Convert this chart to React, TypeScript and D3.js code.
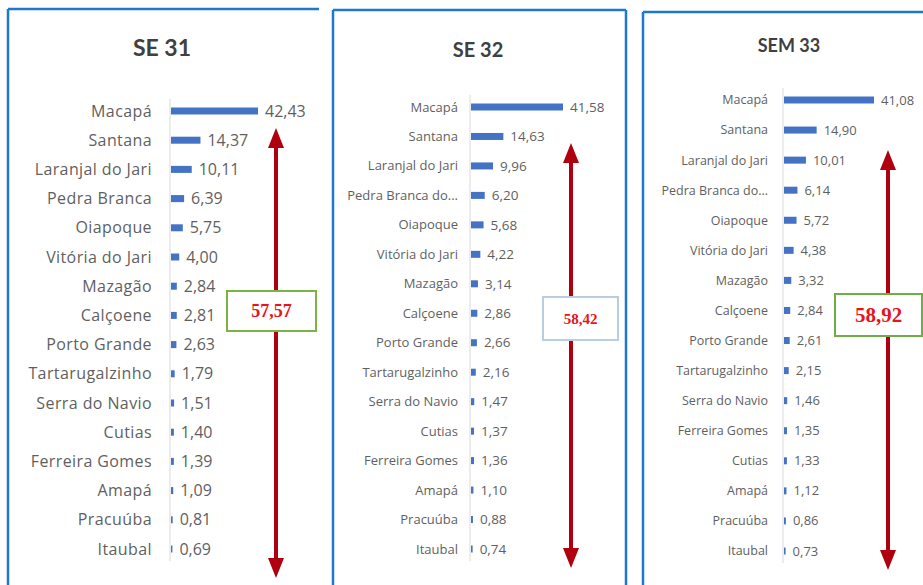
import React, { useEffect, useRef } from 'react';
import * as d3 from 'd3';

// SE 31
const se31Labels = ['Macapá', 'Santana', 'Laranjal do Jari', 'Pedra Branca', 'Oiapoque', 'Vitória do Jari', 'Mazagão', 'Calçoene', 'Porto Grande', 'Tartarugalzinho', 'Serra do Navio', 'Cutias', 'Ferreira Gomes', 'Amapá', 'Pracuúba', 'Itaubal'];
const se31Values = [42.43, 14.37, 10.11, 6.39, 5.75, 4.0, 2.84, 2.81, 2.63, 1.79, 1.51, 1.4, 1.39, 1.09, 0.81, 0.69];

// SE 32
const se32Labels = ['Macapá', 'Santana', 'Laranjal do Jari', 'Pedra Branca do...', 'Oiapoque', 'Vitória do Jari', 'Mazagão', 'Calçoene', 'Porto Grande', 'Tartarugalzinho', 'Serra do Navio', 'Cutias', 'Ferreira Gomes', 'Amapá', 'Pracuúba', 'Itaubal'];
const se32Values = [41.58, 14.63, 9.96, 6.2, 5.68, 4.22, 3.14, 2.86, 2.66, 2.16, 1.47, 1.37, 1.36, 1.1, 0.88, 0.74];

// SEM 33
const sem33Labels = ['Macapá', 'Santana', 'Laranjal do Jari', 'Pedra Branca do...', 'Oiapoque', 'Vitória do Jari', 'Mazagão', 'Calçoene', 'Porto Grande', 'Tartarugalzinho', 'Serra do Navio', 'Ferreira Gomes', 'Cutias', 'Amapá', 'Pracuúba', 'Itaubal'];
const sem33Values = [41.08, 14.9, 10.01, 6.14, 5.72, 4.38, 3.32, 2.84, 2.61, 2.15, 1.46, 1.35, 1.33, 1.12, 0.86, 0.73];

const titles = ['SE 31', 'SE 32', 'SEM 33'];
const totals = ['57,57', '58,42', '58,92'];

const fmt = (v: number) => v.toFixed(2).replace('.', ',');

// layout per panel (pixels)
const panels = [
  {
    labels: se31Labels, values: se31Values, title: titles[0], total: totals[0],
    frame: { x0: 8, x1: 319, y0: 9, right: false },
    titleX: 162, titleY: 56, titleSize: 23,
    axisX: 170, barMax: 87, yTop: 111, yBottom: 549,
    labelSize: 16, labelGap: 18, labelSpacing: 0.4, valueSize: 16, barH: 7,
    arrowX: 276, arrowTop: 128, arrowBottom: 578,
    box: { x: 227, y: 291, w: 89, h: 40, stroke: '#7cb342', size: 18 },
  },
  {
    labels: se32Labels, values: se32Values, title: titles[1], total: totals[1],
    frame: { x0: 333, x1: 626, y0: 10, right: true },
    titleX: 478, titleY: 57, titleSize: 20,
    axisX: 470, barMax: 92, yTop: 107, yBottom: 549,
    labelSize: 13, labelGap: 12, labelSpacing: 0, valueSize: 13.5, barH: 7,
    arrowX: 571, arrowTop: 143, arrowBottom: 568,
    box: { x: 543, y: 297, w: 75, h: 43, stroke: '#b9cde0', size: 15 },
  },
  {
    labels: sem33Labels, values: sem33Values, title: titles[2], total: totals[2],
    frame: { x0: 643, x1: 930, y0: 12, right: false },
    titleX: 789, titleY: 52, titleSize: 18,
    axisX: 783, barMax: 90, yTop: 100, yBottom: 551,
    labelSize: 12.5, labelGap: 15, labelSpacing: 0, valueSize: 13, barH: 7,
    arrowX: 888, arrowTop: 150, arrowBottom: 570,
    box: { x: 835, y: 294, w: 87, h: 42, stroke: '#70ad47', size: 21 },
  },
];

const App: React.FC = () => {
  const ref = useRef<SVGSVGElement | null>(null);

  useEffect(() => {
    if (!ref.current) return;
    const svg = d3.select(ref.current);
    svg.selectAll('*').remove();

    svg.append('rect').attr('width', 923).attr('height', 585).attr('fill', '#ffffff');

    panels.forEach(p => {
      const g = svg.append('g');
      const blue = '#1f77d0';

      // frame
      g.append('line').attr('x1', p.frame.x0).attr('x2', p.frame.x1)
        .attr('y1', p.frame.y0).attr('y2', p.frame.y0)
        .attr('stroke', blue).attr('stroke-width', 2.5);
      g.append('line').attr('x1', p.frame.x0).attr('x2', p.frame.x0)
        .attr('y1', p.frame.y0).attr('y2', 590)
        .attr('stroke', blue).attr('stroke-width', 2.5);
      if (p.frame.right) {
        g.append('line').attr('x1', p.frame.x1).attr('x2', p.frame.x1)
          .attr('y1', p.frame.y0).attr('y2', 590)
          .attr('stroke', blue).attr('stroke-width', 2.5);
      }

      // title
      g.append('text')
        .attr('x', p.titleX).attr('y', p.titleY)
        .attr('text-anchor', 'middle')
        .attr('font-family', 'Lato, "Open Sans", sans-serif')
        .attr('font-weight', 'bold')
        .attr('font-size', p.titleSize)
        .attr('fill', '#404040')
        .text(p.title);

      const y = d3.scalePoint<string>()
        .domain(p.labels)
        .range([p.yTop, p.yBottom]);

      const x = d3.scaleLinear()
        .domain([0, d3.max(p.values) || 1])
        .range([0, p.barMax]);

      // axis line
      g.append('line')
        .attr('x1', p.axisX).attr('x2', p.axisX)
        .attr('y1', p.yTop - 12).attr('y2', p.yBottom + 12)
        .attr('stroke', '#d9d9d9').attr('stroke-width', 1);

      const rows = p.labels.map((name, i) => ({ name, value: p.values[i] }));

      // category labels
      g.selectAll('.cat')
        .data(rows)
        .enter()
        .append('text')
        .attr('x', p.axisX - p.labelGap)
        .attr('y', d => (y(d.name) || 0))
        .attr('dy', '0.35em')
        .attr('text-anchor', 'end')
        .attr('font-family', '"Open Sans", sans-serif')
        .attr('font-size', p.labelSize)
        .attr('letter-spacing', p.labelSpacing)
        .attr('fill', '#5f5f5f')
        .text(d => d.name);

      // bars
      g.selectAll('.bar')
        .data(rows)
        .enter()
        .append('rect')
        .attr('x', p.axisX + 1)
        .attr('y', d => (y(d.name) || 0) - p.barH / 2)
        .attr('width', d => x(d.value))
        .attr('height', p.barH)
        .attr('fill', '#4472c4');

      // value labels
      g.selectAll('.val')
        .data(rows)
        .enter()
        .append('text')
        .attr('x', d => p.axisX + 1 + x(d.value) + 7)
        .attr('y', d => (y(d.name) || 0))
        .attr('dy', '0.35em')
        .attr('font-family', '"Open Sans", sans-serif')
        .attr('font-size', p.valueSize)
        .attr('fill', '#5f5f5f')
        .text(d => fmt(d.value));

      // double arrow
      const red = '#b0000f';
      const headL = 20;
      const headW = 8;
      g.append('line')
        .attr('x1', p.arrowX).attr('x2', p.arrowX)
        .attr('y1', p.arrowTop + headL - 2).attr('y2', p.arrowBottom - headL + 2)
        .attr('stroke', red).attr('stroke-width', 4);
      g.append('path')
        .attr('d', `M${p.arrowX},${p.arrowTop} L${p.arrowX - headW},${p.arrowTop + headL} L${p.arrowX + headW},${p.arrowTop + headL} Z`)
        .attr('fill', red);
      g.append('path')
        .attr('d', `M${p.arrowX},${p.arrowBottom} L${p.arrowX - headW},${p.arrowBottom - headL} L${p.arrowX + headW},${p.arrowBottom - headL} Z`)
        .attr('fill', red);

      // total box
      g.append('rect')
        .attr('x', p.box.x).attr('y', p.box.y)
        .attr('width', p.box.w).attr('height', p.box.h)
        .attr('fill', '#ffffff')
        .attr('stroke', p.box.stroke).attr('stroke-width', 2);
      g.append('text')
        .attr('x', p.box.x + p.box.w / 2)
        .attr('y', p.box.y + p.box.h / 2)
        .attr('dy', '0.35em')
        .attr('text-anchor', 'middle')
        .attr('font-family', '"Liberation Serif", "Times New Roman", serif')
        .attr('font-weight', 'bold')
        .attr('font-size', p.box.size)
        .attr('fill', '#e8131b')
        .text(p.total);
    });
  }, []);

  return (
    <svg
      ref={ref}
      width={923}
      height={585}
      style={{ position: 'absolute', left: 0, top: 0, display: 'block' }}
    />
  );
};

export default App;
